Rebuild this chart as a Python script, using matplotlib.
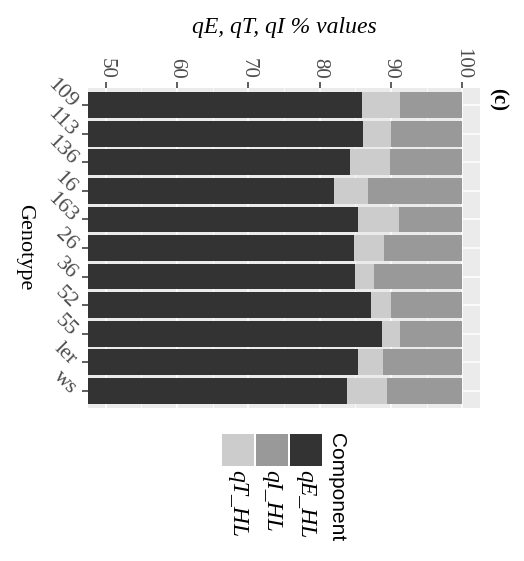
import matplotlib
matplotlib.use("Agg")
import matplotlib.pyplot as plt
from matplotlib.patches import Rectangle
import numpy as np

# Quenching components per genotype (% of total)
genotypes = ["109", "113", "136", "16", "163", "26", "36", "52", "55", "ler", "ws"]
qE_HL = [85.9, 86.05, 84.2, 82.0, 85.35, 84.8, 84.95, 87.2, 88.7, 85.35, 83.8]
qT_HL = [5.35, 3.95, 5.65, 4.75, 5.75, 4.2, 2.65, 2.8, 2.55, 3.5, 5.6]
qI_HL = [100 - e - t for e, t in zip(qE_HL, qT_HL)]

components = ["qE_HL", "qT_HL", "qI_HL"]
colors = {"qE_HL": "#333333", "qI_HL": "#999999", "qT_HL": "#CCCCCC"}
xticks = [50, 60, 70, 80, 90, 100]

serif = ["Liberation Serif", "DejaVu Serif"]
sans = ["Liberation Sans", "DejaVu Sans"]

W, H = 524, 561
fig = plt.figure(figsize=(W / 100, H / 100), dpi=100)

# panel placement in pixels
px0, px1, py0, py1 = 88, 480, 88, 408
ax = fig.add_axes([px0 / W, 1 - py1 / H, (px1 - px0) / W, (py1 - py0) / H])
ax.set_facecolor("#EBEBEB")

y = np.arange(len(genotypes))
left = np.zeros(len(genotypes))
series = {"qE_HL": qE_HL, "qT_HL": qT_HL, "qI_HL": qI_HL}
for comp in components:
    vals = np.array(series[comp])
    ax.barh(y, vals, left=left, height=0.9, color=colors[comp], zorder=3)
    left += vals

ax.set_xlim(47.5, 102.5)
ax.set_ylim(len(genotypes) - 0.4, -0.6)

# grid
ax.set_xticks(xticks)
ax.set_xticks([55, 65, 75, 85, 95], minor=True)
ax.set_yticks(y)
ax.grid(True, which="major", color="white", linewidth=1.1, zorder=1)
ax.grid(True, which="minor", axis="x", color="white", linewidth=0.55, zorder=1)
for s in ax.spines.values():
    s.set_visible(False)

ax.xaxis.tick_top()
ax.tick_params(axis="x", which="major", length=4.5, width=1.1, color="#333333",
               pad=2, labelsize=15, labelcolor="#4D4D4D")
ax.tick_params(axis="x", which="minor", length=0)
ax.tick_params(axis="y", length=4.5, width=1.1, color="#333333", pad=6,
               labelsize=16, labelcolor="#4D4D4D")
ax.set_xticklabels([str(v) for v in xticks], rotation=-90, family=serif,
                   ha="center", va="bottom")
ax.set_yticklabels(genotypes, rotation=-45, family=serif, ha="right",
                   va="center", rotation_mode="anchor")

# titles
fig.text((px0 + px1) / 2 / W, 1 - 27 / H, "qE, qT, qI % values", family=serif,
         style="italic", fontsize=17, ha="center", va="center")
fig.text(25 / W, 1 - 247 / H, "Genotype", family=serif, fontsize=16,
         rotation=-90, ha="center", va="center")
fig.text(498 / W, 1 - 100 / H, "(c)", family=serif, fontsize=15,
         fontweight="bold", rotation=-90, ha="center", va="center")

# legend
lax = fig.add_axes([0, 0, 1, 1], facecolor="none")
lax.set_xlim(0, W)
lax.set_ylim(H, 0)
lax.axis("off")
legend_order = ["qT_HL", "qI_HL", "qE_HL"]
kx = [222, 256, 290]
for x0, comp in zip(kx, legend_order):
    lax.add_patch(Rectangle((x0, 434), 32, 32, facecolor=colors[comp],
                            edgecolor="none"))
    lax.text(x0 + 16, 470, comp, family=serif, style="italic", fontsize=17,
             rotation=-90, ha="center", va="top")
lax.text(337, 433, "Component", family=sans, fontsize=15, rotation=-90,
         ha="center", va="top")

fig.savefig("out.png", dpi=100)
